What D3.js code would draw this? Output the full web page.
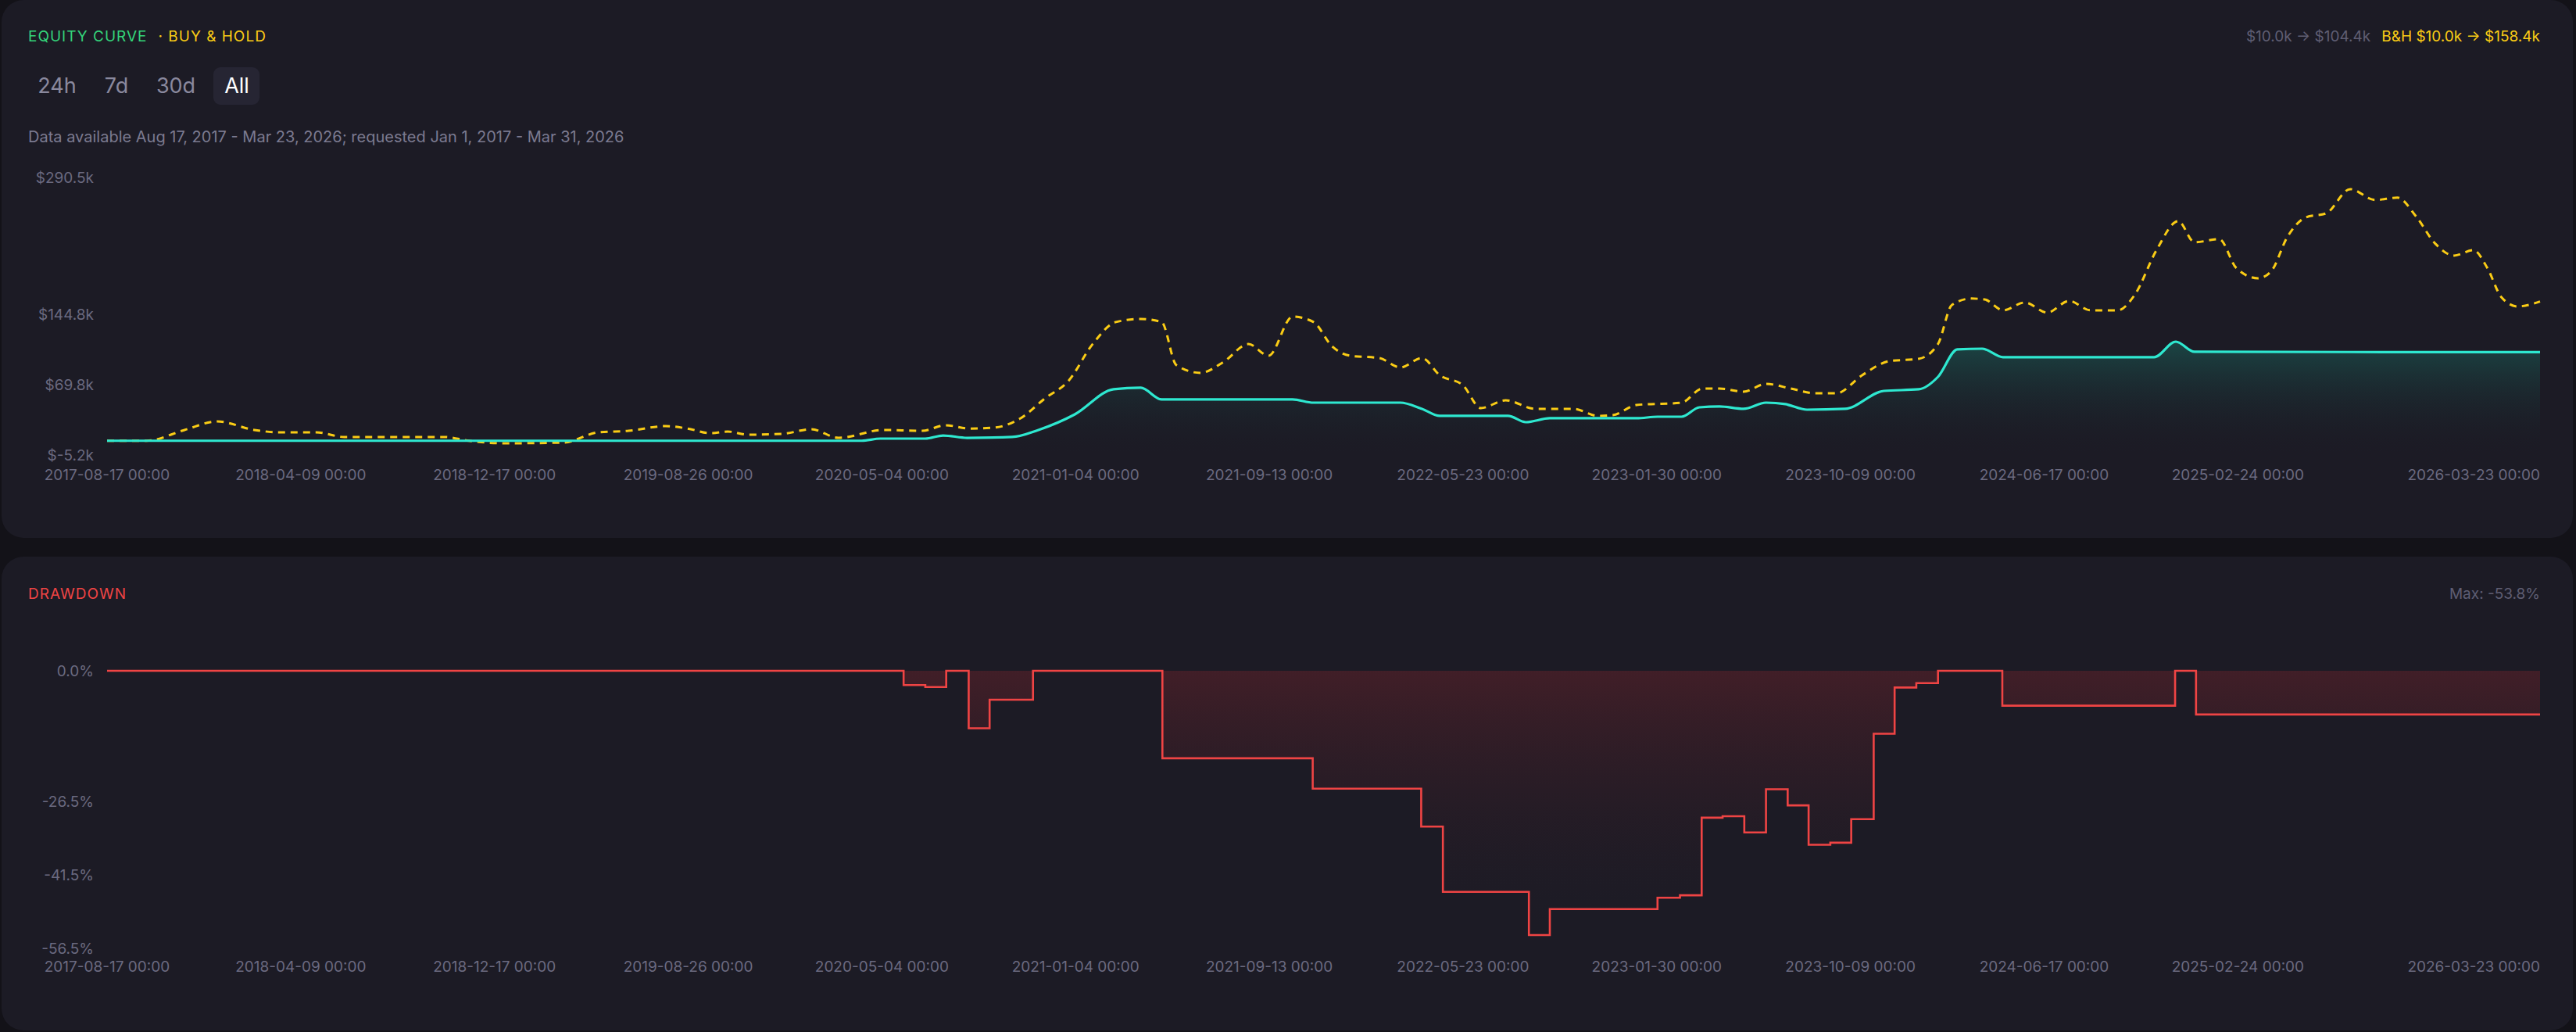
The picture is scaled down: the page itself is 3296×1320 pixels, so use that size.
<!DOCTYPE html>
<html><head><meta charset="utf-8">
<script src="https://cdn.jsdelivr.net/npm/d3@7"></script>
<style>
html,body{margin:0;padding:0;background:#131218;}
svg{display:block;font-family:Inter,"Noto Sans",sans-serif;}
</style></head><body>
<svg id="c" width="3296" height="1320"></svg>
<script>
// ---- data ----
const startDate = "2017-08-17";
// [days since start, value in $k]
const bhDays = [0,51,100,142,190,222,270,306,435,467,511,589,634,673,721,749,779,801,827,871,909,944,1002,1052,1082,1114,1145,1179,1210,1241,1272,1302,1334,1361,1380,1411,1441,1473,1499,1530,1557,1581,1604,1642,1669,1697,1720,1750,1773,1805,1843,1893,1924,1943,1974,2032,2059,2081,2112,2141,2173,2204,2232,2265,2300,2338,2363,2381,2406,2423,2447,2475,2504,2532,2560,2595,2617,2645,2673,2694,2726,2748,2776,2793,2814,2838,2864,2895,2927,2956,2980,3005,3029,3054,3072,3090,3111,3140];
const bhValues = [10,10,21.5,30.6,21.5,19,19,14,14,10,7.3,8.1,19,20.6,25.6,23,18,19.8,16.5,17.3,22.3,13.1,21.5,20.6,26.5,23,24,34,54.8,74,113,136.5,139.8,136.5,90.6,82.3,94,113,100.6,142.3,136.5,110.6,100.6,98.1,88.1,98.1,79.8,69,44.8,53.1,44,44,36.5,37.3,48.1,50.6,65.6,65.6,62.3,70.6,65.6,60.6,60.6,79.8,94.8,97.3,113.1,154.8,161.5,160.6,149,157.3,146.5,159,149,149,165.6,213.1,244,221.5,224.8,194,183.1,190.6,227.3,248.1,252.3,278.1,266.5,269,249,219.8,207.3,213.1,194,163.1,153.1,158.4];
const eqDays = [0,974,998,1056,1079,1110,1168,1202,1249,1299,1334,1361,1530,1557,1669,1697,1720,1808,1831,1862,1974,2001,2032,2055,2081,2112,2141,2166,2194,2243,2293,2338,2363,2388,2420,2447,2642,2670,2694,3140];
const eqValues = [10,10,12.3,12.3,15.6,13.1,14,21.5,38.1,64.8,66.5,54,54,50.6,50.6,44,36.5,36.5,29.8,34,34,35.6,35.6,45.6,46.5,44,50.6,49,43.1,44,63.1,64.8,78.1,107.3,108.1,99,99,115.6,104.8,104.4];
const ddDays = [0,1028,1056,1083,1112,1139,1195,1362,1556,1696,1724,1835,1862,2001,2030,2058,2085,2113,2141,2169,2196,2224,2251,2280,2307,2335,2363,2446,2669,2696,3140];
const ddValues = [0,-2.9,-3.3,0,-11.7,-5.9,0,-17.8,-24.0,-31.7,-45.0,-53.8,-48.5,-46.2,-45.7,-29.9,-29.6,-32.9,-24.1,-27.4,-35.4,-35.0,-30.2,-12.8,-3.4,-2.5,0,-7.1,0,-8.9,-8.9];
const xTickLabels = ["2017-08-17 00:00","2018-04-09 00:00","2018-12-17 00:00","2019-08-26 00:00","2020-05-04 00:00","2021-01-04 00:00","2021-09-13 00:00","2022-05-23 00:00","2023-01-30 00:00","2023-10-09 00:00","2024-06-17 00:00","2025-02-24 00:00","2026-03-23 00:00"];
const tickEveryDays = 250;
const eqTicks = [-5.2,69.8,144.8,290.5];
const ddTicks = [0,-26.5,-41.5,-56.5];
const ranges = ["24h","7d","30d","All"];

// ---- drawing ----
const svg = d3.select("#c");
const parse = d3.utcParse("%Y-%m-%d");
const t0 = parse(startDate);
const toDate = d => d3.utcDay.offset(t0, d);
const bh = bhDays.map((d,i)=>({t:toDate(d),v:bhValues[i]}));
const eq = eqDays.map((d,i)=>({t:toDate(d),v:eqValues[i]}));
const dd = ddDays.map((d,i)=>({t:toDate(d),v:ddValues[i]}));

const defs = svg.append("defs");
const g1 = defs.append("linearGradient").attr("id","gEq").attr("x1",0).attr("x2",0).attr("y1",0).attr("y2",1);
g1.append("stop").attr("offset","0%").attr("stop-color","#1a4d4a").attr("stop-opacity",0.85);
g1.append("stop").attr("offset","100%").attr("stop-color","#1c1b25").attr("stop-opacity",0);
const g2 = defs.append("linearGradient").attr("id","gDd").attr("x1",0).attr("x2",0).attr("y1",0).attr("y2",1);
g2.append("stop").attr("offset","0%").attr("stop-color","#4a1f28").attr("stop-opacity",0.8);
g2.append("stop").attr("offset","100%").attr("stop-color","#1c1b25").attr("stop-opacity",0.1);

svg.append("rect").attr("x",2).attr("y",0).attr("width",3290).attr("height",688).attr("rx",28).attr("fill","#1c1b25");
svg.append("rect").attr("x",2).attr("y",712).attr("width",3290).attr("height",606).attr("rx",28).attr("fill","#1c1b25");

const axisColor = "#6b6a80";
const x = d3.scaleUtc().domain([t0, toDate(3140)]).range([137,3250]);

const hdr = svg.append("text").attr("x",36).attr("y",53).attr("font-size",19).attr("letter-spacing",1);
hdr.append("tspan").attr("fill","#34d47a").text("EQUITY CURVE");
hdr.append("tspan").attr("fill","#facc15").attr("dx",14).text("· BUY & HOLD");
const sum = svg.append("text").attr("x",3250).attr("y",53).attr("font-size",19).attr("text-anchor","end");
sum.append("tspan").attr("fill","#5f5e73").text("$10.0k → $104.4k");
sum.append("tspan").attr("fill","#facc15").attr("dx",14).text("B&H $10.0k → $158.4k");

const bx = [73,149,225,303];
svg.append("rect").attr("x",273).attr("y",86).attr("width",59).attr("height",48).attr("rx",9).attr("fill","#262533");
ranges.forEach((r,i)=>{
  svg.append("text").attr("x",bx[i]).attr("y",119).attr("font-size",27)
    .attr("fill", r==="All" ? "#ffffff" : "#8a899e").attr("text-anchor","middle").text(r);
});
svg.append("text").attr("x",36).attr("y",182).attr("font-size",20).attr("fill","#7b7a90")
  .text("Data available Aug 17, 2017 - Mar 23, 2026; requested Jan 1, 2017 - Mar 31, 2026");

const y1 = d3.scaleLinear().domain([-5.2,290.5]).range([582,227]);
const fmtK = v => "$" + v.toFixed(1) + "k";
eqTicks.forEach(v=>{
  svg.append("text").attr("x",120).attr("y",y1(v)+7).attr("font-size",19).attr("fill",axisColor)
    .attr("text-anchor","end").text(fmtK(v));
});
function xLabels(yPos){
  xTickLabels.forEach((lab,i)=>{
    const last = i===xTickLabels.length-1;
    svg.append("text").attr("x", last?3250:x(toDate(i*tickEveryDays))).attr("y",yPos).attr("font-size",19).attr("fill",axisColor)
      .attr("text-anchor", last?"end":"middle").text(lab);
  });
}
xLabels(614);
const area1 = d3.area().x(d=>x(d.t)).y0(582).y1(d=>y1(d.v)).curve(d3.curveMonotoneX);
svg.append("path").datum(eq).attr("d",area1).attr("fill","url(#gEq)");
const line1 = d3.line().x(d=>x(d.t)).y(d=>y1(d.v)).curve(d3.curveMonotoneX);
svg.append("path").datum(bh).attr("d",line1).attr("fill","none").attr("stroke","#facc15")
  .attr("stroke-width",3).attr("stroke-dasharray","9,7");
svg.append("path").datum(eq).attr("d",line1).attr("fill","none").attr("stroke","#2ee8d0").attr("stroke-width",3.2);

svg.append("text").attr("x",36).attr("y",766).attr("font-size",19).attr("letter-spacing",1).attr("fill","#ef4444").text("DRAWDOWN");
svg.append("text").attr("x",3250).attr("y",766).attr("font-size",19).attr("fill","#5f5e73").attr("text-anchor","end").text("Max: -53.8%");
const y2 = d3.scaleLinear().domain([-56.5,0]).range([1213,858]);
ddTicks.forEach(v=>{
  svg.append("text").attr("x",120).attr("y",y2(v)+7).attr("font-size",19).attr("fill",axisColor)
    .attr("text-anchor","end").text(v.toFixed(1)+"%");
});
xLabels(1243);
const area2 = d3.area().x(d=>x(d.t)).y0(y2(0)).y1(d=>y2(d.v)).curve(d3.curveStepAfter);
svg.append("path").datum(dd).attr("d",area2).attr("fill","url(#gDd)");
const line2 = d3.line().x(d=>x(d.t)).y(d=>y2(d.v)).curve(d3.curveStepAfter);
svg.append("path").datum(dd).attr("d",line2).attr("fill","none").attr("stroke","#ef4444").attr("stroke-width",2.6);
</script>
</body></html>
